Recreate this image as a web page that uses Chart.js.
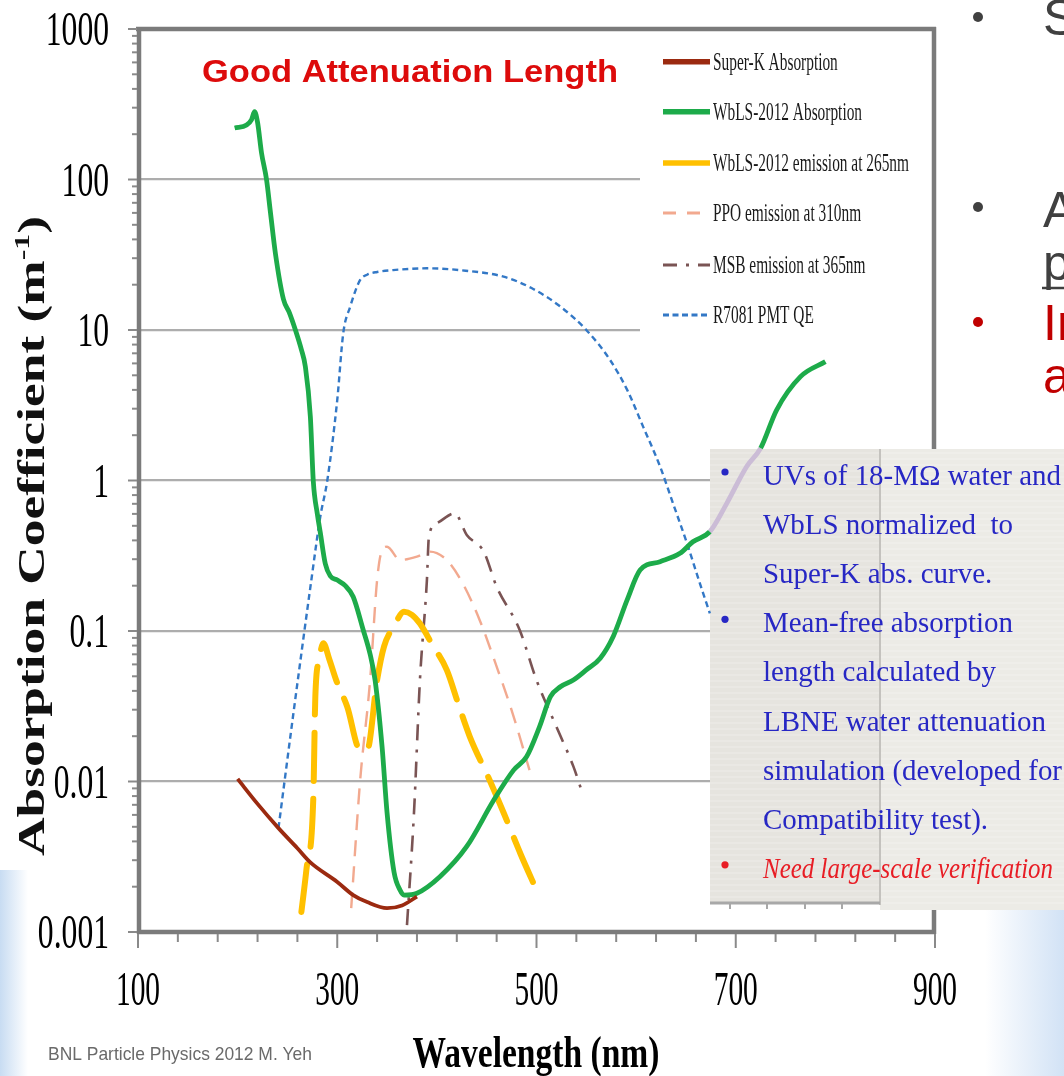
<!DOCTYPE html>
<html>
<head>
<meta charset="utf-8">
<script src="https://cdn.jsdelivr.net/npm/chart.js@4.4.0/dist/chart.umd.min.js"></script>
<style>
  html, body { margin: 0; padding: 0; background: #fff; overflow: hidden; }
  canvas { display: block; }
</style>
</head>
<body>
<canvas id="chart" width="1064" height="1076"></canvas>
<script>
// ---------- axis labels ----------
const xTickLabels = ['100', '300', '500', '700', '900'];
const yTickLabels = ['0.001', '0.01', '0.1', '1', '10', '100', '1000'];

// ---------- series (wavelength in nm, absorption coefficient in 1/m) ----------
const superKNm  = [200, 220, 241, 260, 273, 300, 316, 330, 350, 365, 380];
const superKAbs = [0.0104, 0.0071, 0.0049, 0.0036, 0.0029, 0.00215, 0.00176, 0.00158, 0.00144, 0.0015, 0.00172];

const wblsAbsNm = [197, 209, 214, 217, 220, 224, 229, 233, 238, 246, 252, 258, 264, 268, 273, 276, 280, 283, 288, 293,
                   300, 308, 316, 326, 333, 338, 345, 350, 357, 363, 367, 380, 403, 430, 457, 477, 490, 503, 514, 524,
                   537, 550, 564, 577, 591, 604, 624, 644, 657, 674, 691, 711, 725, 741, 765, 790];
const wblsAbs   = [220, 230, 250, 282, 240, 150, 100, 60, 32, 16, 13, 10, 7.4, 5.7, 2.66, 0.98, 0.6, 0.45, 0.28, 0.232,
                   0.218, 0.2, 0.169, 0.102, 0.07, 0.047, 0.017, 0.0062, 0.0025, 0.0019, 0.00176, 0.00181, 0.00233, 0.0037, 0.0075, 0.0119, 0.0146, 0.0231, 0.0366, 0.0426,
                   0.0472, 0.0551, 0.066, 0.092, 0.161, 0.254, 0.289, 0.328, 0.392, 0.457, 0.705, 1.24, 1.64, 2.94, 4.9, 6.16];

const wblsEmNm  = [264, 269, 276, 278, 282, 286, 292, 299, 310, 323, 330, 340, 347, 357, 367, 375, 383, 395, 410, 422, 433, 453, 467, 484, 500];
const wblsEm    = [0.00136, 0.00258, 0.0079, 0.0366, 0.065, 0.083, 0.065, 0.047, 0.0314, 0.0162, 0.0162, 0.0472, 0.079, 0.108, 0.134, 0.128, 0.112, 0.082, 0.055, 0.032, 0.0199, 0.0102, 0.0062, 0.0033, 0.0019];

const ppoNm     = [314, 323, 333, 340, 345, 350, 363, 380, 393, 410, 426, 443, 460, 476, 493];
const ppoEm     = [0.00144, 0.0102, 0.0472, 0.218, 0.345, 0.363, 0.296, 0.312, 0.337, 0.296, 0.207, 0.118, 0.058, 0.0284, 0.0119];

const msbNm     = [370, 377, 383, 390, 392, 400, 418, 430, 447, 460, 483, 500, 520, 537, 545];
const msbEm     = [0.00111, 0.00615, 0.0472, 0.218, 0.424, 0.52, 0.605, 0.435, 0.337, 0.197, 0.102, 0.0472, 0.0231, 0.0126, 0.0088];

const pmtNm     = [241, 256, 274, 283, 290, 300, 306, 313, 323, 330, 340, 356, 390, 423, 467, 495, 524, 550, 574, 591, 607, 624, 637, 651, 664, 674];
const pmtQE     = [0.0049, 0.0284, 0.218, 0.575, 1.0, 3.43, 9.5, 14.3, 21.5, 23.3, 24.3, 25, 25.7, 25, 22.6, 19, 14.3, 10, 6.3, 4.0, 2.28, 1.24, 0.706, 0.383, 0.207, 0.131];

const seriesNames = ['Super-K Absorption', 'WbLS-2012 Absorption', 'WbLS-2012 emission at 265nm',
                     'PPO emission at 310nm', 'MSB emission at 365nm', 'R7081 PMT QE'];

const noteLines = [
  { bullet: true,  text: 'UVs of 18-M\u03A9 water and' },
  { bullet: false, text: 'WbLS normalized  to' },
  { bullet: false, text: 'Super-K abs. curve.' },
  { bullet: true,  text: 'Mean-free absorption' },
  { bullet: false, text: 'length calculated by' },
  { bullet: false, text: 'LBNE water attenuation' },
  { bullet: false, text: 'simulation (developed for' },
  { bullet: false, text: 'Compatibility test).' },
  { bullet: true,  text: 'Need large-scale verification', warn: true }
];

// ---------- helpers ----------
const W = 1064, H = 1076;
const SERIF = '"Liberation Serif", "Times New Roman", serif';
const SANS = '"Liberation Sans", Arial, sans-serif';
const pts = (xs, ys) => xs.map((x, i) => ({ x: x, y: ys[i] }));

function text(ctx, s, x, y, o) {
  ctx.save();
  ctx.translate(x, y);
  ctx.scale(o.sx || 1, o.sy || 1);
  ctx.font = o.font;
  ctx.fillStyle = o.color || '#000';
  ctx.textAlign = o.align || 'left';
  ctx.textBaseline = 'alphabetic';
  ctx.fillText(s, 0, 0);
  ctx.restore();
}
function widthOf(ctx, s, font) {
  ctx.save(); ctx.font = font; const w = ctx.measureText(s).width; ctx.restore(); return w;
}
function line(ctx, x1, y1, x2, y2, color, w, dash) {
  ctx.save();
  ctx.strokeStyle = color; ctx.lineWidth = w; ctx.setLineDash(dash || []);
  ctx.beginPath(); ctx.moveTo(x1, y1); ctx.lineTo(x2, y2); ctx.stroke();
  ctx.restore();
}
function dot(ctx, x, y, r, color) {
  ctx.save(); ctx.fillStyle = color; ctx.beginPath(); ctx.arc(x, y, r, 0, Math.PI * 2); ctx.fill(); ctx.restore();
}
const isDecade = v => { const l = Math.log10(v); return Math.abs(l - Math.round(l)) < 1e-6; };

const NOTE_BOX = { x: 710, y: 449, split: 880, bottom: 903 };

// ---------- page decorations ----------
const decorations = {
  id: 'decorations',
  beforeDraw(chart) {
    const ctx = chart.ctx;
    ctx.save();
    ctx.fillStyle = '#fff';
    ctx.fillRect(0, 0, W, H);
    // pale blue slide background at the lower corners
    let g = ctx.createLinearGradient(0, 0, 28, 0);
    g.addColorStop(0, 'rgba(190,214,240,0.85)');
    g.addColorStop(1, 'rgba(190,214,240,0)');
    ctx.fillStyle = g;
    ctx.fillRect(0, 870, 28, 206);
    g = ctx.createLinearGradient(985, 0, 1064, 0);
    g.addColorStop(0, 'rgba(205,223,244,0)');
    g.addColorStop(1, 'rgba(205,223,244,0.9)');
    ctx.fillStyle = g;
    ctx.fillRect(985, 905, 79, 171);
    ctx.restore();
  },
  beforeDatasetsDraw(chart) {
    const ctx = chart.ctx, a = chart.chartArea;
    const xs = chart.scales.x, ys = chart.scales.y;
    // legend panel
    ctx.fillStyle = '#fff';
    ctx.fillRect(640, a.top + 3, a.right - 643, 312);
    // plot frame
    const fc = '#7b7b7b';
    line(ctx, a.left - 2, a.top, a.right + 1, a.top, fc, 4.5);
    line(ctx, a.right - 1, a.top - 2, a.right - 1, a.bottom + 2, fc, 4.5);
    line(ctx, a.left + 1, a.top - 2, a.left + 1, a.bottom + 2, fc, 4.5);
    line(ctx, a.left - 1, a.bottom, a.right + 1, a.bottom, fc, 4.5);
    // x tick marks every 40 nm, longer at labelled values
    for (let v = 100; v <= 900; v += 40) {
      const px = xs.getPixelForValue(v);
      const major = xTickLabels.includes(String(v));
      line(ctx, px, a.bottom + 2, px, a.bottom + (major ? 16 : 10), '#8a8a8a', 2);
    }
    // y tick marks: decades and 2..9 sub-ticks
    for (let d = -3; d <= 3; d++) {
      for (let m = 1; m <= 9; m++) {
        const v = m * Math.pow(10, d);
        if (v > 1000.0001) break;
        const py = ys.getPixelForValue(v);
        line(ctx, a.left - 1, py, a.left - (m === 1 ? 10 : 6), py, '#8a8a8a', 2);
      }
    }
    // notes panel
    const b = NOTE_BOX;
    ctx.fillStyle = '#e6e4df';
    ctx.fillRect(b.x, b.y, b.split - b.x, b.bottom - b.y);
    ctx.fillStyle = '#ecebe6';
    ctx.fillRect(b.split, b.y, W - b.split, 910 - b.y);
    ctx.strokeStyle = 'rgba(255,255,255,0.35)';
    ctx.lineWidth = 1;
    for (let y = b.y + 4; y < 908; y += 6) {
      ctx.beginPath(); ctx.moveTo(b.x, y); ctx.lineTo(W, y); ctx.stroke();
    }
    line(ctx, b.split, b.y, b.split, 905, '#c4c2be', 2);
    line(ctx, b.x, b.bottom, b.split, b.bottom, '#a8a8a8', 3);
    [730, 767, 805, 842].forEach(px => line(ctx, px, b.bottom, px, b.bottom + 6, '#a8a8a8', 2));
  },
  afterDatasetsDraw(chart) {
    const ctx = chart.ctx, a = chart.chartArea;
    const xs = chart.scales.x, ys = chart.scales.y;

    // legend entries
    const ly = [61.7, 111.7, 163, 213, 265, 315];
    const lf = '15px ' + SERIF;
    const lsx = 196 / widthOf(ctx, seriesNames[2], lf);
    chart.data.datasets.forEach((ds, i) => {
      const y = ly[i];
      const lw = i < 3 ? 5.5 : 3;
      const dash = [[], [], [], [13, 11], [14, 9, 3, 9], [6, 3.5]][i];
      line(ctx, 663, y, 710, y, ds.borderColor, lw, dash);
      text(ctx, seriesNames[i], 713, y + 8, { font: lf, color: '#1a1a1a', sx: lsx, sy: 1.7 });
    });

    // tick labels
    const tf = '31px ' + SERIF;
    yTickLabels.forEach(s => {
      const py = ys.getPixelForValue(parseFloat(s));
      text(ctx, s, 109, py + 16, { font: tf, align: 'right', sx: 1.02, sy: 1.55 });
    });
    xTickLabels.forEach(s => {
      const px = xs.getPixelForValue(parseFloat(s));
      text(ctx, s, px, 1005, { font: '30px ' + SERIF, align: 'center', sx: 0.98, sy: 1.6 });
    });

    // x title
    const xf = 'bold 29px ' + SERIF;
    const xt = 'Wavelength (nm)';
    text(ctx, xt, 536, 1067, { font: xf, align: 'center', sx: 247 / widthOf(ctx, xt, xf), sy: 1.5 });

    // y title with superscript
    const mainT = 'Absorption Coefficient (m', sup = '-1', close = ')';
    const f1 = 'bold 37px ' + SERIF, f2 = 'bold 22px ' + SERIF;
    const w1 = widthOf(ctx, mainT, f1), w2 = widthOf(ctx, sup, f2), w3 = widthOf(ctx, close, f1);
    const total = w1 + w2 + w3;
    ctx.save();
    ctx.translate(44, 536);
    ctx.rotate(-Math.PI / 2);
    ctx.scale(640 / total, 1);
    ctx.fillStyle = '#111';
    ctx.textAlign = 'left';
    ctx.textBaseline = 'alphabetic';
    let tx = -total / 2;
    ctx.font = f1; ctx.fillText(mainT, tx, 0); tx += w1;
    ctx.font = f2; ctx.fillText(sup, tx, -15); tx += w2;
    ctx.font = f1; ctx.fillText(close, tx, 0);
    ctx.restore();

    // headline inside the plot
    const hf = 'bold 32px ' + SANS, ht = 'Good Attenuation Length';
    text(ctx, ht, 202, 82, { font: hf, color: '#dd0b0b', sx: 416 / widthOf(ctx, ht, hf) });

    // credit line
    const cf = '19px ' + SANS, ct = 'BNL Particle Physics 2012 M. Yeh';
    text(ctx, ct, 48, 1060, { font: cf, color: '#6a6a6a', sx: 264 / widthOf(ctx, ct, cf) });

    // notes panel text
    const nf = '30px ' + SERIF, nfi = 'italic 30px ' + SERIF;
    const nsx = 299 / widthOf(ctx, noteLines[6].text, nf);
    noteLines.forEach((ln, i) => {
      const by = 485 + i * 49.1;
      const col = ln.warn ? '#e81d25' : '#2727c4';
      if (ln.bullet) dot(ctx, 725, by - 13, 3.6, ln.warn ? '#e81d25' : '#2727c4');
      if (ln.warn) {
        text(ctx, ln.text, 763, by, { font: nfi, color: col, sx: 290 / widthOf(ctx, ln.text, nfi) });
      } else {
        text(ctx, ln.text, 763, by, { font: nf, color: col, sx: nsx });
      }
    });

    // slide bullet text running off the right edge
    const sf = '50px ' + SANS;
    dot(ctx, 978, 17, 5, '#404040');
    text(ctx, 'S', 1043, 35, { font: sf, color: '#404040' });
    dot(ctx, 978, 207, 5, '#404040');
    text(ctx, 'A', 1043, 227, { font: sf, color: '#404040' });
    text(ctx, 'p', 1043, 280, { font: sf, color: '#404040' });
    line(ctx, 1042, 288, 1064, 288, '#404040', 2.5);
    dot(ctx, 978, 322, 5, '#c00000');
    text(ctx, 'In', 1043, 340, { font: sf, color: '#c00000' });
    text(ctx, 'a', 1043, 393, { font: sf, color: '#c00000' });
  }
};

// ---------- chart ----------
const ctx = document.getElementById('chart').getContext('2d');
new Chart(ctx, {
  type: 'line',
  data: {
    datasets: [
      { label: seriesNames[0], data: pts(superKNm, superKAbs), borderColor: '#9b2a10', borderWidth: 3.8 },
      { label: seriesNames[1], data: pts(wblsAbsNm, wblsAbs), borderColor: '#1dab4a', borderWidth: 4.8,
        segment: { borderColor: c => (c.p0.parsed.x >= 674 && c.p1.parsed.x <= 725) ? '#cbbcd6' : undefined } },
      { label: seriesNames[2], data: pts(wblsEmNm, wblsEm), borderColor: '#ffc000', borderWidth: 6,
        borderDash: [48, 18], borderCapStyle: 'round' },
      { label: seriesNames[3], data: pts(ppoNm, ppoEm), borderColor: '#f2a98f', borderWidth: 2.4, borderDash: [16, 10] },
      { label: seriesNames[4], data: pts(msbNm, msbEm), borderColor: '#7a5454', borderWidth: 2.6, borderDash: [16, 9, 3, 9] },
      { label: seriesNames[5], data: pts(pmtNm, pmtQE), borderColor: '#3378c6', borderWidth: 2.4, borderDash: [6, 4] }
    ]
  },
  options: {
    responsive: false,
    animation: false,
    devicePixelRatio: 1,
    parsing: true,
    layout: { padding: { left: 138, right: 1064 - 935, top: 29, bottom: 1076 - 932 } },
    elements: {
      point: { radius: 0 },
      line: { tension: 0, cubicInterpolationMode: 'monotone', fill: false, borderJoinStyle: 'round' }
    },
    plugins: { legend: { display: false }, tooltip: { enabled: false } },
    scales: {
      x: {
        type: 'linear', min: 100, max: 900,
        ticks: { display: false, stepSize: 40 },
        grid: { display: false }, border: { display: false },
        afterFit(s) { s.height = 0; }
      },
      y: {
        type: 'logarithmic', min: 0.001, max: 1000,
        ticks: { display: false },
        grid: {
          drawTicks: false, lineWidth: 2.2,
          color: c => {
            const v = c.tick && c.tick.value;
            return (v && isDecade(v) && v > 0.0011 && v < 999) ? '#adadad' : 'rgba(0,0,0,0)';
          }
        },
        border: { display: false },
        afterFit(s) { s.width = 0; }
      }
    }
  },
  plugins: [decorations]
});
</script>
</body>
</html>
